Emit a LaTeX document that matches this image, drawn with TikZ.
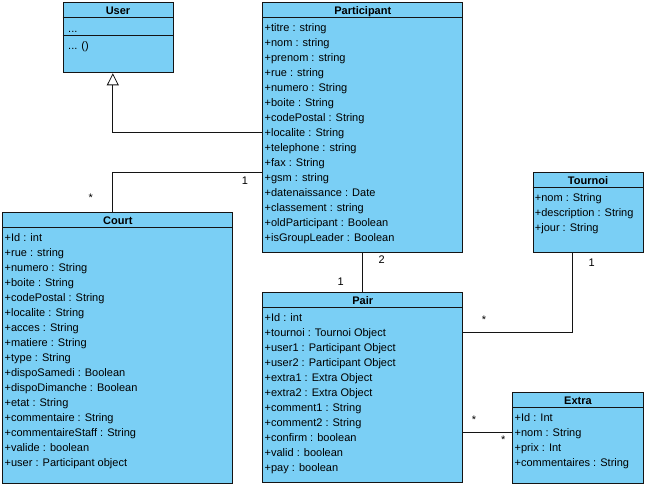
\documentclass[tikz,border=0pt]{standalone}
\usepackage{fontspec}
\setmainfont{Liberation Sans}
\usetikzlibrary{arrows.meta,calc}
\definecolor{classblue}{RGB}{122,207,245}
\definecolor{lineblack}{RGB}{20,20,20}

\begin{document}
\begin{tikzpicture}[x=1pt,y=-1pt,font=\fontsize{11}{13}\selectfont,
    classbox/.style={draw=lineblack,fill=classblue,line width=1pt,anchor=north west,inner sep=0pt},
    classname/.style={anchor=base,inner sep=0pt,font=\fontsize{11}{13}\selectfont\bfseries},
    member/.style={anchor=base west,inner sep=0pt},
    link/.style={draw=lineblack,line width=0.8pt},
    mult/.style={inner sep=0pt}]
    \useasboundingbox (0,0) rectangle (646,486);
    % classes
    \node[classbox,minimum width=110,minimum height=70] (user) at (62.5,2.3) {};
    \node[classbox,minimum width=200,minimum height=250] (part) at (262.3,2.3) {};
    \node[classbox,minimum width=230,minimum height=270.5] (court) at (2.3,212.3) {};
    \node[classbox,minimum width=200,minimum height=190] (pair) at (262.3,292.3) {};
    \node[classbox,minimum width=110,minimum height=80] (tournoi) at (532.5,172.3) {};
    \node[classbox,minimum width=130.3,minimum height=90.3] (extra) at (512.3,392.3) {};
    \foreach \c in {user,part,court,pair,tournoi,extra}
        \draw[line width=1pt,lineblack] ($(\c.north west)+(0,15.5)$) -- ($(\c.north east)+(0,15.5)$);
    \draw[line width=1pt,lineblack] ($(user.north west)+(0,33.7)$) -- ($(user.north east)+(0,33.7)$);
    % names
    \node[classname] (user-name) at ($(user.north)+(0,12)$) {User};
    \node[classname] (part-name) at ($(part.north)+(0,12)$) {Participant};
    \node[classname] (court-name) at ($(court.north)+(0,12)$) {Court};
    \node[classname] (pair-name) at ($(pair.north)+(0,12)$) {Pair};
    \node[classname] (tournoi-name) at ($(tournoi.north)+(0,12)$) {Tournoi};
    \node[classname] (extra-name) at ($(extra.north)+(0,12)$) {Extra};
    % members
    \node[member] (user-attr) at ($(user.north west)+(5.5,30)$) {...};
    \node[member] (user-op) at ($(user.north west)+(5.5,47.5)$) {... ()};
    \foreach \m [count=\i] in {+titre : string,+nom : string,+prenom : string,+rue : string,
        +numero : String,+boite : String,+codePostal : String,+localite : String,
        +telephone : string,+fax : String,+gsm : string,+datenaissance : Date,
        +classement : string,+oldParticipant : Boolean,+isGroupLeader : Boolean}
        \node[member] (part-\i) at ($(part.north west)+(2.2,14+15*\i)$) {\m};
    \foreach \m [count=\i] in {+Id  : int,+rue : string,+numero : String,+boite : String,
        +codePostal : String,+localite : String,+acces : String,+matiere : String,
        +type : String,+dispoSamedi : Boolean,+dispoDimanche : Boolean,+etat : String,
        +commentaire : String,+commentaireStaff : String,+valide : boolean,
        +user : Participant object}
        \node[member] (court-\i) at ($(court.north west)+(2.2,14+15*\i)$) {\m};
    \foreach \m [count=\i] in {+Id  : int,+tournoi : Tournoi Object,+user1 : Participant Object,
        +user2 : Participant Object,+extra1 : Extra Object,+extra2 : Extra Object,
        +comment1 : String,+comment2 : String,+confirm : boolean,+valid : boolean,
        +pay : boolean}
        \node[member] (pair-\i) at ($(pair.north west)+(2.2,14+15*\i)$) {\m};
    \foreach \m [count=\i] in {+nom : String,+description : String,+jour : String}
        \node[member] (tournoi-\i) at ($(tournoi.north west)+(2.2,14+15*\i)$) {\m};
    \foreach \m [count=\i] in {+Id  : Int,+nom : String,+prix : Int,+commentaires : String}
        \node[member] (extra-\i) at ($(extra.north west)+(2.2,14+15*\i)$) {\m};
    % associations
    \coordinate (gen-end) at ($(user.south)+(-5.2,0)$);
    \coordinate (court-end) at ($(court.north)+(-5,0)$);
    \coordinate (tournoi-end) at ($(tournoi.south)+(-15.2,0)$);
    \draw[link,-{Triangle[open,length=12pt,width=12pt,line width=0.8pt]}]
        ($(part.north west)+(0,129.7)$) -| (gen-end);
    \draw[link] ($(part.north west)+(0,169.7)$) -| (court-end);
    \draw[link] (part.south) -- (pair.north);
    \draw[link] (tournoi-end) |- ($(pair.north east)+(0,40)$);
    \draw[link] ($(pair.north east)+(0,140)$) -- ($(extra.north west)+(0,40)$);
    % multiplicities
    \node[mult] (m-part-court) at (245,180.3) {1};
    \node[mult] (m-court-part) at (90.7,198) {*};
    \node[mult] (m-part-pair) at (381.7,260) {2};
    \node[mult] (m-pair-part) at (340.7,281.7) {1};
    \node[mult] (m-tournoi-pair) at (591.7,262.3) {1};
    \node[mult] (m-pair-tournoi) at (484,319.7) {*};
    \node[mult] (m-pair-extra) at (474,419.7) {*};
    \node[mult] (m-extra-pair) at (503.3,439.3) {*};
\end{tikzpicture}
\end{document}
